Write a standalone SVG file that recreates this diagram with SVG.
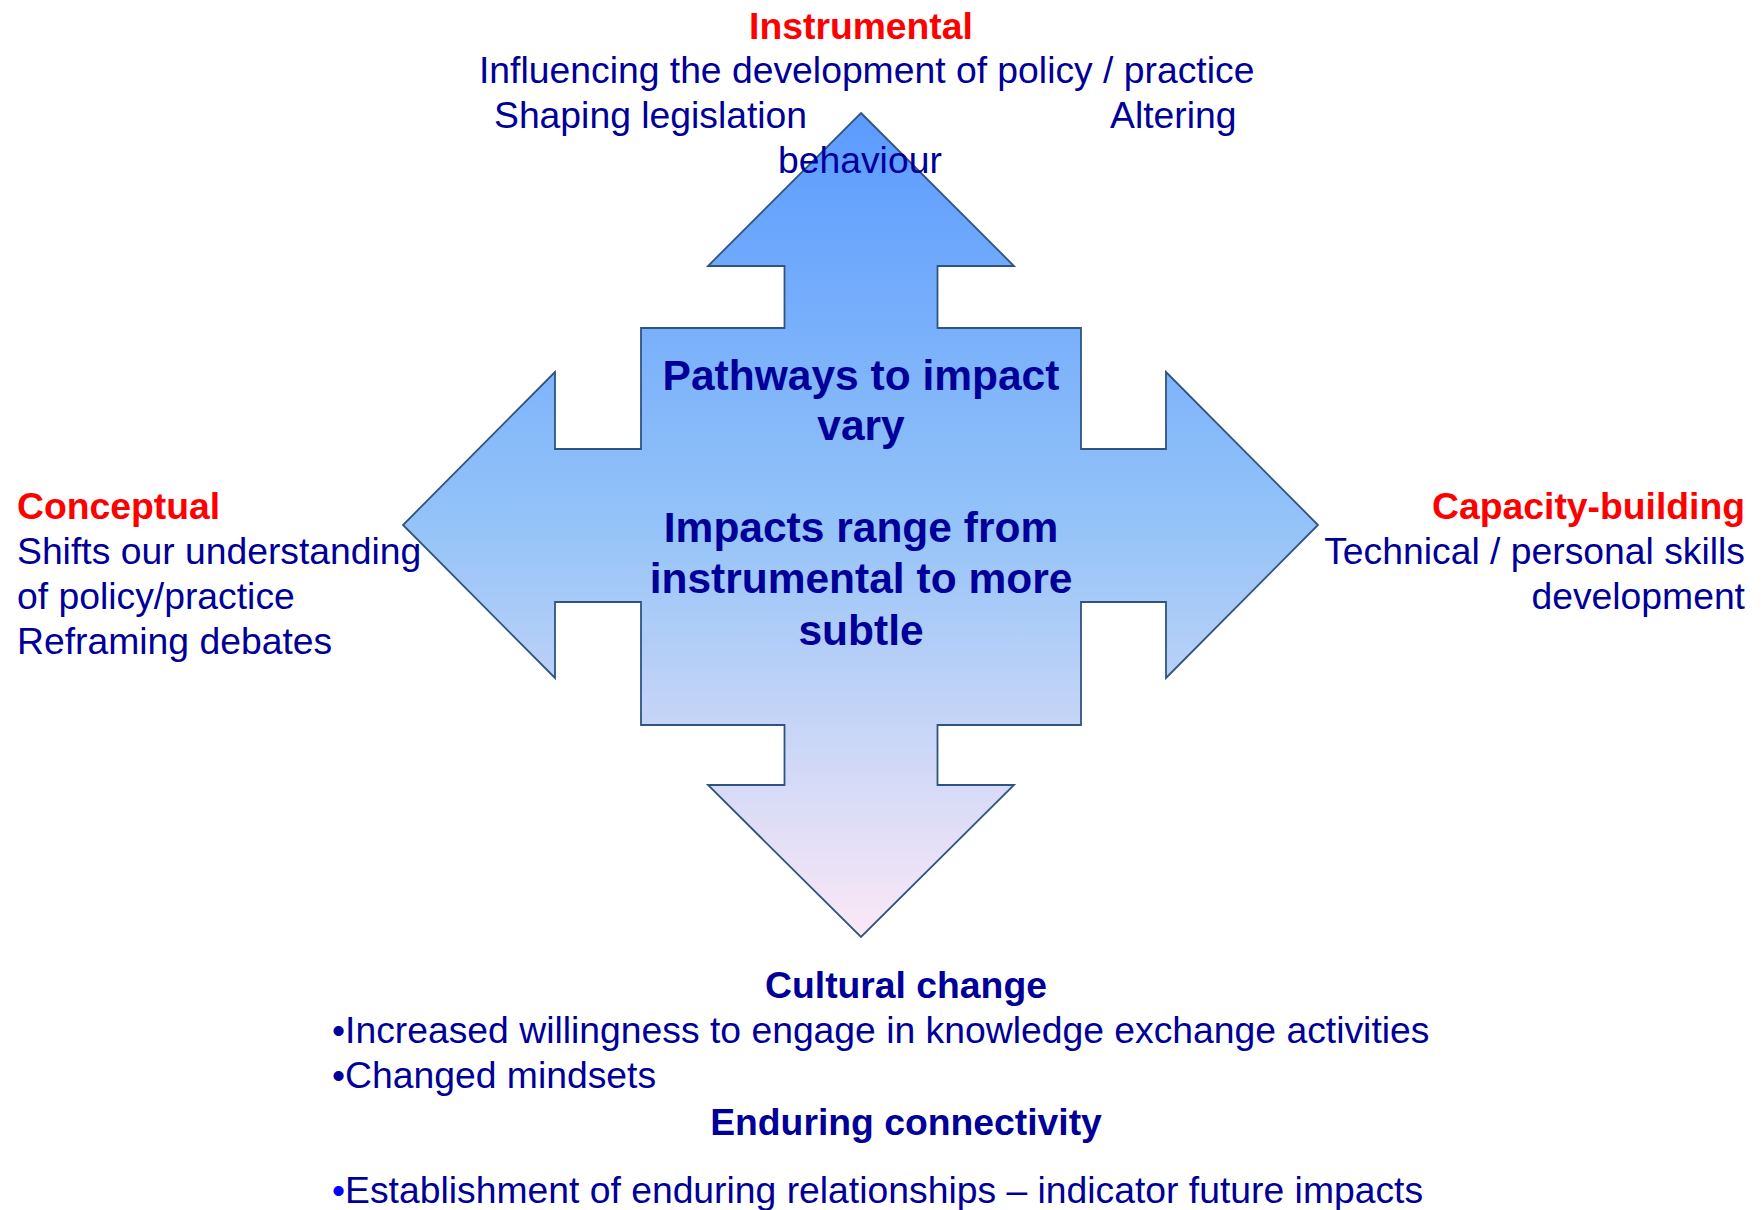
<svg xmlns="http://www.w3.org/2000/svg" width="1762" height="1210" viewBox="0 0 1762 1210">
<style>
text{font-family:"Liberation Sans",Arial,sans-serif;font-size:37.3px;fill:#000099}
.b{font-weight:bold}
.red{fill:#ff0000;font-weight:bold}
.ctr{font-size:42.5px;font-weight:bold;text-anchor:middle}
.mid{text-anchor:middle}
.end{text-anchor:end}
</style>
<defs>
<linearGradient id="g" x1="0" y1="113" x2="0" y2="937" gradientUnits="userSpaceOnUse">
<stop offset="0" stop-color="#5b9bff"/>
<stop offset="0.5" stop-color="#94c3f8"/>
<stop offset="1" stop-color="#fce8f6"/>
</linearGradient>
</defs>
<g id="arrows">
<path d="M861,113 L1014,266 L937.5,266 L937.5,328 L1081,328 L1081,449 L1166,449 L1166,372 L1318,525 L1166,678 L1166,602 L1081,602 L1081,725 L937.5,725 L937.5,785 L1014,785 L861,937 L708,785 L784.5,785 L784.5,725 L641,725 L641,602 L555,602 L555,678 L403,525 L555,372 L555,449 L641,449 L641,328 L784.5,328 L784.5,266 L708,266 Z" fill="url(#g)" stroke="#2f5480" stroke-width="1.8" stroke-linejoin="miter"/>
</g>
<g id="center-text">
<text class="ctr" x="861" y="390">Pathways to impact</text>
<text class="ctr" x="861" y="440">vary</text>
<text class="ctr" x="861" y="542">Impacts range from</text>
<text class="ctr" x="861" y="593">instrumental to more</text>
<text class="ctr" x="861" y="645">subtle</text>
</g>
<g id="instrumental">
<text class="red mid" x="861" y="39">Instrumental</text>
<text x="479" y="83">Influencing the development of policy / practice</text>
<text x="494" y="128">Shaping legislation</text>
<text x="1110" y="128">Altering</text>
<text x="778" y="173">behaviour</text>
</g>
<g id="conceptual">
<text class="red" x="17" y="519">Conceptual</text>
<text x="17" y="564">Shifts our understanding</text>
<text x="17" y="609">of policy/practice</text>
<text x="17" y="654">Reframing debates</text>
</g>
<g id="capacity">
<text class="red end" x="1745" y="519">Capacity-building</text>
<text class="end" x="1745" y="564">Technical / personal skills</text>
<text class="end" x="1745" y="609">development</text>
</g>
<g id="cultural">
<text class="b mid" x="906" y="998">Cultural change</text>
<text x="332" y="1043">•Increased willingness to engage in knowledge exchange activities</text>
<text x="332" y="1088">•Changed mindsets</text>
<text class="b mid" x="906" y="1135">Enduring connectivity</text>
<text x="332" y="1203"><tspan fill="#0000ff">•</tspan>Establishment of enduring relationships – indicator future impacts</text>
</g>
</svg>
